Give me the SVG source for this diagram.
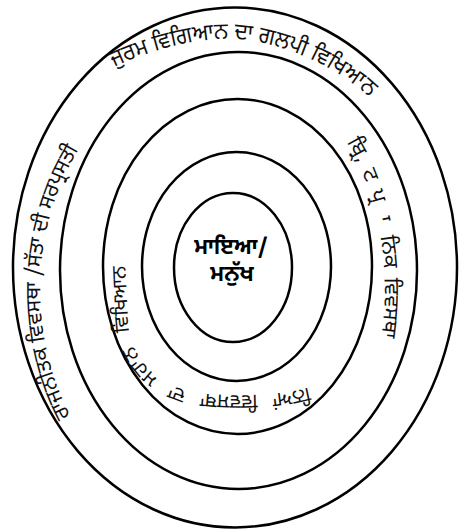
<svg xmlns="http://www.w3.org/2000/svg" xmlns:xlink="http://www.w3.org/1999/xlink" width="459" height="531" viewBox="0 0 459 531">
<style>
.ring{fill:none;stroke:#000;stroke-width:2.5}
.lbl{font-family:"Noto Sans Gurmukhi","Lohit Gurmukhi","Noto Sans",sans-serif;fill:#111}
.ctr{font-family:"Noto Sans Gurmukhi","Lohit Gurmukhi","Noto Sans",sans-serif;font-weight:bold;font-size:22px;fill:#000;text-anchor:middle}
</style>
<defs>
<path id="pTop" d="M112 68 C148 51 190 39 228 39 C275 39 337 65 372 100"/>
<path id="pRight" d="M344 138 A148 220 0 0 1 379 350"/>
<path id="pLeft" d="M72 418 A196 235 0 0 1 85 140"/>
<path id="pInner" d="M318 384 C290 396 230 397 200 393 C160 388 130 360 128 320 C127 295 125 270 125 245"/>
</defs>
<rect width="459" height="531" fill="#fff"/>
<g id="ring1"><ellipse class="ring" cx="235" cy="267.5" rx="222" ry="260"/></g>
<g id="ring2"><ellipse class="ring" cx="238.5" cy="270.5" rx="178.5" ry="218.5"/></g>
<g id="ring3"><ellipse class="ring" cx="237.5" cy="266.5" rx="134.5" ry="167.5"/></g>
<g id="ring4"><ellipse class="ring" cx="236.5" cy="266.5" rx="94.5" ry="114.5"/></g>
<g id="ring5"><ellipse class="ring" cx="233" cy="267.5" rx="59" ry="74.5"/></g>
<g id="label-top"><text class="lbl" font-size="23"><textPath href="#pTop" xlink:href="#pTop" startOffset="2" textLength="274" lengthAdjust="spacingAndGlyphs">ਜੁਰਮ ਵਿਗਿਆਨ ਦਾ ਗਲਪੀ ਵਿਖਿਆਨ</textPath></text></g>
<g id="label-right"><text class="lbl" font-size="21" word-spacing="4"><textPath href="#pRight" xlink:href="#pRight" startOffset="5">ਬ੍ਰਿ, ਟ ਪ੍ਰ &#160;ਾ ਨਿਕ ਵਿਵਸਥਾ</textPath></text></g>
<g id="label-left"><text class="lbl" font-size="21"><textPath href="#pLeft" xlink:href="#pLeft" startOffset="3">ਰਾਜਨੀਤਕ ਵਿਵਸਥਾ /ਸੱਤਾ ਦੀ ਸਰਪ੍ਰਸਤੀ</textPath></text></g>
<g id="label-inner"><text class="lbl" font-size="20" word-spacing="9"><textPath href="#pInner" xlink:href="#pInner" startOffset="10">ਨਿਆਂ ਵਿਵਸਥਾ ਦਾ ਮਹਾਨ ਵਿਖਿਆਨ</textPath></text></g>
<g id="center"><text class="ctr" x="231" y="254">ਮਾਇਆ/</text><text class="ctr" x="232" y="281">ਮਨੁੱਖ</text></g>
</svg>
